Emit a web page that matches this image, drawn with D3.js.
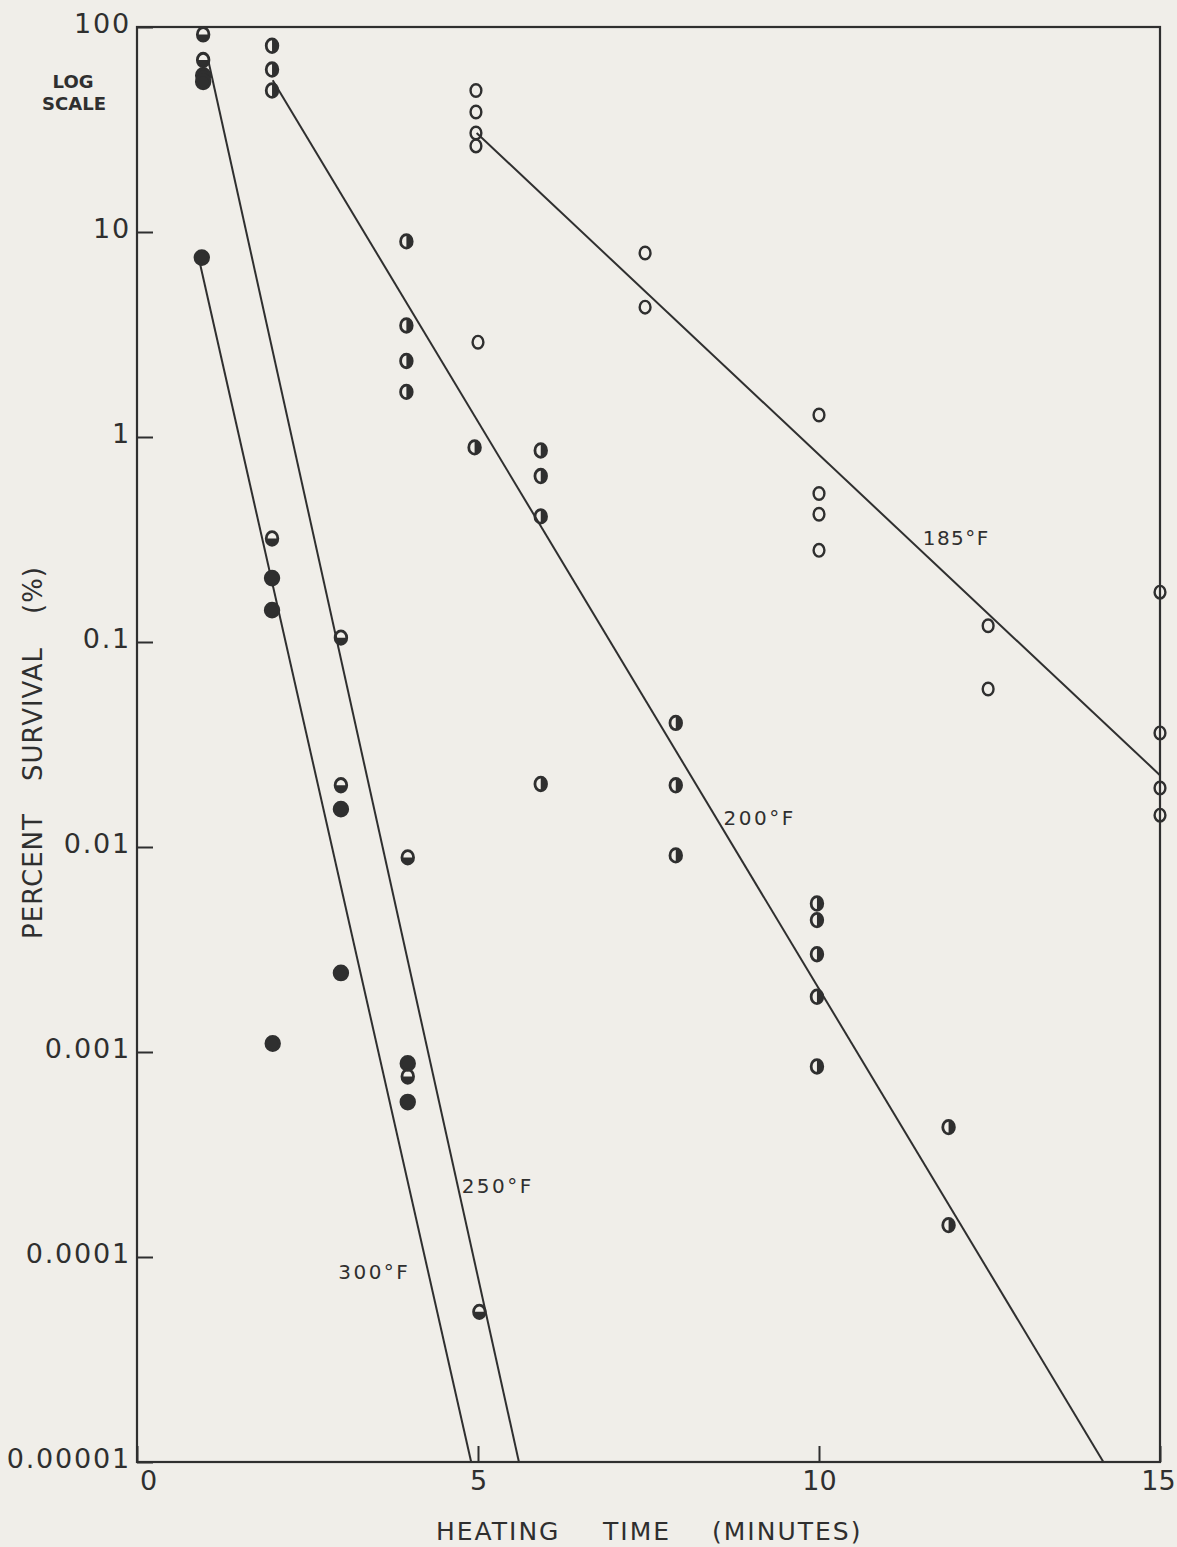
<!DOCTYPE html>
<html>
<head>
<meta charset="utf-8">
<title>Survival vs heating time</title>
<script src="https://cdn.jsdelivr.net/npm/d3@7"></script>
<style>
  html, body { margin: 0; padding: 0; background: #f0eee9; }
  svg { display: block; }
</style>
</head>
<body>
<svg id="chart" width="1177" height="1547"></svg>
<script>
// ---- axis ticks ----
const xTickValues = [0, 5, 10, 15];
const xTickLabels = ["0", "5", "10", "15"];
const yTickValues = [100, 10, 1, 0.1, 0.01, 0.001, 0.0001, 0.00001];
const yTickLabels = ["100", "10", "1", "0.1", "0.01", "0.001", "0.0001", "0.00001"];

// ---- observations: [heating time (min), percent survival] ----
const obs185 = [
  [4.97, 49], [4.97, 38.5], [4.97, 30.4], [4.97, 26.3], [5.0, 2.9],
  [7.45, 7.9], [7.45, 4.3],
  [10, 1.28], [10, 0.53], [10, 0.42], [10, 0.28],
  [12.48, 0.12], [12.48, 0.059],
  [15, 0.175], [15, 0.036], [15, 0.0194], [15, 0.0143]
];
const obs200 = [
  [1.98, 81], [1.98, 62], [1.98, 49],
  [3.95, 9.0], [3.95, 3.5], [3.95, 2.35], [3.95, 1.66],
  [4.95, 0.89],
  [5.92, 0.86], [5.92, 0.645], [5.92, 0.41], [5.92, 0.0203],
  [7.9, 0.0403], [7.9, 0.02], [7.9, 0.0091],
  [9.97, 0.0053], [9.97, 0.0044], [9.97, 0.003], [9.97, 0.00186], [9.97, 0.00085],
  [11.9, 0.00043], [11.9, 0.000143]
];
const obs250 = [
  [0.97, 92], [0.97, 69],
  [1.98, 0.32],
  [2.99, 0.105], [2.99, 0.02],
  [3.97, 0.0089], [3.97, 0.00076],
  [5.02, 0.000054]
];
const obs300 = [
  [0.95, 7.5], [0.97, 58], [0.97, 54],
  [1.98, 0.205], [1.98, 0.143], [1.99, 0.0011],
  [2.99, 0.0153], [2.99, 0.00243],
  [3.97, 0.00088], [3.97, 0.00057]
];

// ---- fitted survival lines: [start, end] ----
const fit185 = [[4.98, 30.4], [15, 0.0224]];
const fit200 = [[1.99, 55], [14.17, 0.00001]];
const fit250 = [[1.05, 67.5], [5.6, 0.00001]];
const fit300 = [[0.92, 7.1], [4.9, 0.00001]];

const seriesNames = ["185°F", "200°F", "250°F", "300°F"];

// ---- styling / layout ----
const bg = "#f0eee9";
const ink = "#2f2f2f";
const font = "'DejaVu Sans', Verdana, sans-serif";

const series = [
  { name: seriesNames[0], obs: obs185, fit: fit185, kind: "open",       label: { x: 11.52, y: 0.297,    size: 20, ls: 1.5 } },
  { name: seriesNames[1], obs: obs200, fit: fit200, kind: "rightHalf",  label: { x: 8.6,   y: 0.0128,   size: 20, ls: 2.5 } },
  { name: seriesNames[2], obs: obs250, fit: fit250, kind: "bottomHalf", label: { x: 4.76,  y: 0.000205, size: 20, ls: 2.5 } },
  { name: seriesNames[3], obs: obs300, fit: fit300, kind: "filled",     label: { x: 2.95,  y: 0.000078, size: 20, ls: 2.5 } }
];

const svg = d3.select("#chart");
svg.append("rect").attr("width", 1177).attr("height", 1547).attr("fill", bg);

const x = d3.scaleLinear().domain([0, 15]).range([137, 1160]);
const y = d3.scaleLog().domain([0.00001, 100]).range([1462, 27]);

// ---- frame ----
svg.append("rect")
  .attr("x", x(0)).attr("y", y(100))
  .attr("width", x(15) - x(0)).attr("height", y(0.00001) - y(100))
  .attr("fill", "none").attr("stroke", ink).attr("stroke-width", 2.2);

// ---- axes ----
const yAxis = d3.axisLeft(y)
  .tickValues(yTickValues)
  .tickFormat((d, i) => yTickLabels[i])
  .tickSizeInner(-16).tickSizeOuter(0).tickPadding(6);
const gy = svg.append("g").attr("transform", `translate(${x(0)},0)`).call(yAxis);
gy.select(".domain").remove();
gy.selectAll(".tick line").attr("stroke", ink).attr("stroke-width", 2);
gy.selectAll(".tick text")
  .attr("fill", ink).attr("font-family", font).attr("font-size", 27)
  .attr("letter-spacing", 1.8).attr("dy", "0.2em");

const xAxis = d3.axisBottom(x)
  .tickValues(xTickValues)
  .tickFormat((d, i) => xTickLabels[i])
  .tickSizeInner(-16).tickSizeOuter(0).tickPadding(8);
const gx = svg.append("g").attr("transform", `translate(0,${y(0.00001)})`).call(xAxis);
gx.select(".domain").remove();
gx.selectAll(".tick line").attr("stroke", ink).attr("stroke-width", 2);
gx.selectAll(".tick text")
  .attr("fill", ink).attr("font-family", font).attr("font-size", 27)
  .attr("dy", "0.75em")
  .attr("dx", d => d === 0 ? 11 : (d === 15 ? -2 : 0));

// ---- axis titles ----
const xTitle = [["HEATING", 436], ["TIME", 603], ["(MINUTES)", 712]];
svg.selectAll("text.xtitle").data(xTitle).join("text")
  .attr("class", "xtitle")
  .attr("x", d => d[1]).attr("y", 1540)
  .attr("font-family", font).attr("font-size", 25).attr("letter-spacing", 2)
  .attr("fill", ink).text(d => d[0]);

const yTitle = [["PERCENT", 876], ["SURVIVAL", 714], ["(%)", 590]];
svg.selectAll("text.ytitle").data(yTitle).join("text")
  .attr("class", "ytitle")
  .attr("transform", d => `translate(42,${d[1]}) rotate(-90)`)
  .attr("text-anchor", "middle")
  .attr("font-family", font).attr("font-size", 26).attr("letter-spacing", 1)
  .attr("fill", ink).text(d => d[0]);

svg.append("text").attr("x", 73).attr("y", 88).attr("text-anchor", "middle")
  .attr("font-family", font).attr("font-weight", "bold").attr("font-size", 18)
  .attr("fill", ink).text("LOG");
svg.append("text").attr("x", 74).attr("y", 110).attr("text-anchor", "middle")
  .attr("font-family", font).attr("font-weight", "bold").attr("font-size", 18)
  .attr("fill", ink).text("SCALE");

// ---- fitted lines ----
const line = d3.line().x(d => x(d[0])).y(d => y(d[1]));
svg.selectAll("path.fit").data(series).join("path")
  .attr("class", "fit")
  .attr("d", d => line(d.fit))
  .attr("fill", "none").attr("stroke", ink).attr("stroke-width", 2);

// ---- series labels ----
svg.selectAll("text.slabel").data(series).join("text")
  .attr("class", "slabel")
  .attr("x", d => x(d.label.x)).attr("y", d => y(d.label.y))
  .attr("font-family", font).attr("font-size", d => d.label.size)
  .attr("letter-spacing", d => d.label.ls)
  .attr("fill", ink).text(d => d.name);

// ---- markers ----
function drawMarker(g, kind) {
  const big = kind !== "open";
  const rx = kind === "filled" ? 6.8 : (big ? 5.8 : 5.4);
  const ry = kind === "filled" ? 7.0 : (big ? 6.8 : 6.3);
  const sw = big ? 2.8 : 2.4;
  if (kind === "rightHalf") {
    g.append("path").attr("d", `M0,${-ry}A${rx},${ry} 0 0 1 0,${ry}Z`).attr("fill", ink);
  } else if (kind === "bottomHalf") {
    g.append("path").attr("d", `M${-rx},0A${rx},${ry} 0 0 0 ${rx},0Z`).attr("fill", ink);
  }
  g.append("ellipse").attr("rx", rx).attr("ry", ry)
    .attr("fill", kind === "filled" ? ink : "none")
    .attr("stroke", ink).attr("stroke-width", sw);
}

series.forEach(s => {
  const grp = svg.append("g").attr("class", "obs");
  grp.selectAll("g").data(s.obs).join("g")
    .attr("transform", d => `translate(${x(d[0])},${y(d[1])})`)
    .each(function () { drawMarker(d3.select(this), s.kind); });
});
</script>
</body>
</html>
